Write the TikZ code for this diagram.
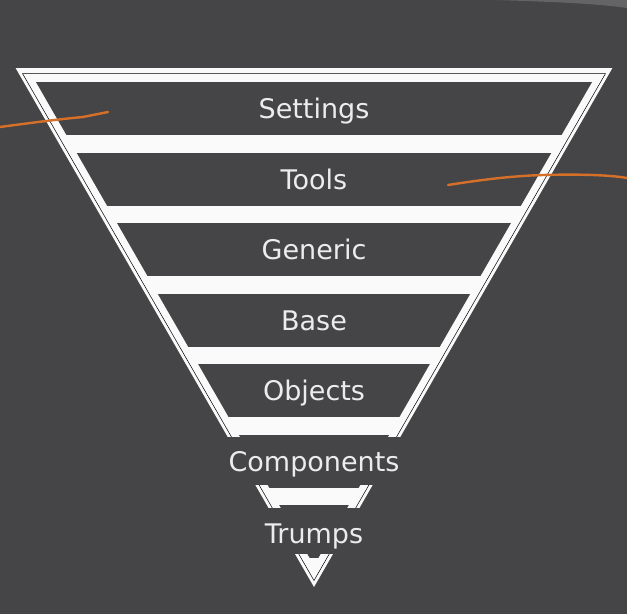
\documentclass[tikz,border=0pt]{standalone}
\usepackage{fontspec}
\setmainfont{DejaVu Sans}

\definecolor{slide}{RGB}{69,69,71}
\definecolor{edge}{RGB}{250,250,250}
\definecolor{thin}{RGB}{205,205,207}
\definecolor{script}{RGB}{214,112,40}
\definecolor{glare}{RGB}{100,100,102}

\tikzset{
	tier/.style = {text = edge!92!slide, font = \fontsize{27}{32}\selectfont, anchor = base},
	stroke/.style = {script, line width = 2.4pt, line cap = round}
}

\begin{document}
\begin{tikzpicture}[x = 1pt, y = -1pt]

	% Slide background
	
	\fill [slide] (0, 0) rectangle (627, 614);
	\useasboundingbox (0, 0) rectangle (627, 614);
	\fill [glare] (495, 0) .. controls (560, 2) and (600, 4) .. (627, 8) -- (627, 0) -- cycle;
	
	% Outer triangle
	
	\fill [edge] (15.6, 68) -- (612.4, 68) -- (314, 587) -- cycle;
	\draw [thin, line width = 0.5pt] (22.5, 73.5) -- (605.5, 73.5) -- (314, 580.5) -- cycle;
	
	% Dark rows inside the triangle
	
	\begin{scope}
		\clip (-11.2, 0) -- (639.2, 0) -- (314, 565.5) -- cycle;
		\fill [slide] (0, 82) rectangle (627, 135);
		\fill [slide] (0, 152.5) rectangle (627, 205.5);
		\fill [slide] (0, 223) rectangle (627, 276);
		\fill [slide] (0, 293.5) rectangle (627, 346.5);
		\fill [slide] (0, 364) rectangle (627, 417);
		\fill [slide] (0, 434.5) rectangle (627, 487.5);
		\fill [slide] (0, 505) rectangle (627, 558);
	\end{scope}
	
	% Hidden rows
	
	\fill [slide] (0, 437) rectangle (627, 485);
	\fill [slide] (0, 508) rectangle (627, 554);
	
	% Layer names
	
	\node [tier] (settings) at (314, 118) {Settings};
	\node [tier] (tools) at (314, 189) {Tools};
	\node [tier] (generic) at (314, 259.5) {Generic};
	\node [tier] (base) at (314, 330) {Base};
	\node [tier] (objects) at (314, 400.5) {Objects};
	\node [tier] (components) at (314, 471.5) {Components};
	\node [tier] (trumps) at (314, 543) {Trumps};
	
	% Pen marks
	
	\draw [stroke] (0, 127) .. controls (30, 123) and (60, 119) .. (83, 117) .. controls (95, 115) .. (108, 112);
	\draw [stroke] (448, 185) .. controls (480, 180) and (510, 176) .. (543, 175) .. controls (580, 174) and (610, 175) .. (627, 178);

\end{tikzpicture}
\end{document}
